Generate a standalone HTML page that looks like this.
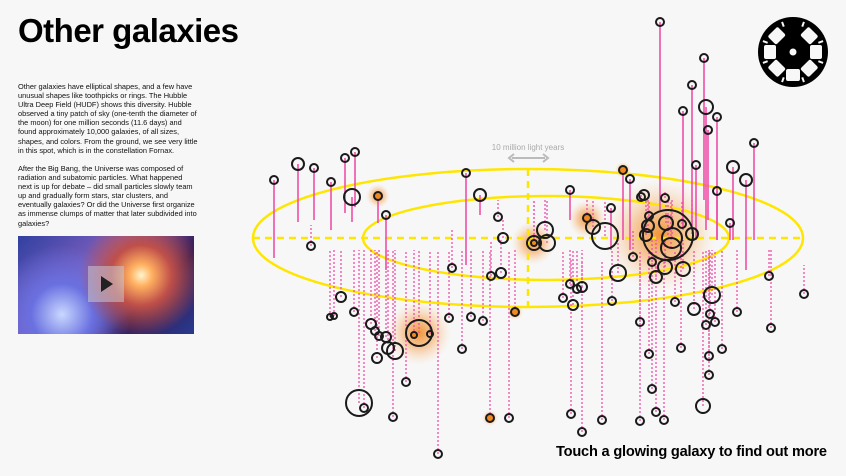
<!DOCTYPE html>
<html><head><meta charset="utf-8">
<style>
html,body{margin:0;padding:0;background:#f7f7f7;}
body{width:846px;height:476px;position:relative;overflow:hidden;font-family:"Liberation Sans",sans-serif;}
h1{position:absolute;left:18px;top:12px;margin:0;font-size:33px;font-weight:bold;letter-spacing:-0.5px;color:#000;}
.p{position:absolute;left:18px;width:180px;font-size:7.4px;line-height:9.1px;color:#111;}
.img{position:absolute;left:18px;top:236px;width:176px;height:98px;overflow:hidden;
background:radial-gradient(circle at 70% 40%,#fff6d0 0,#ffb060 8%,#c0504a 22%,transparent 45%),radial-gradient(circle at 25% 80%,#c8d8ff 0,#6a70e0 20%,transparent 45%),linear-gradient(135deg,#3040a0,#8060c0 40%,#301850 70%,#2a3a90);}
.play{position:absolute;left:70px;top:30px;width:36px;height:36px;background:rgba(200,200,210,.55);}
.play:after{content:"";position:absolute;left:13px;top:10px;border-left:12px solid #222;border-top:8px solid transparent;border-bottom:8px solid transparent;}
.cta{position:absolute;left:556px;top:444px;font-size:14.6px;font-weight:bold;color:#000;letter-spacing:-0.2px;}
svg{position:absolute;left:0;top:0;}
</style></head><body>
<h1>Other galaxies</h1>
<div class="p" style="top:82px">Other galaxies have elliptical shapes, and a few have unusual shapes like toothpicks or rings. The Hubble Ultra Deep Field (HUDF) shows this diversity. Hubble observed a tiny patch of sky (one-tenth the diameter of the moon) for one million seconds (11.6 days) and found approximately 10,000 galaxies, of all sizes, shapes, and colors. From the ground, we see very little in this spot, which is in the constellation Fornax.</div>
<div class="p" style="top:164px">After the Big Bang, the Universe was composed of radiation and subatomic particles. What happened next is up for debate – did small particles slowly team up and gradually form stars, star clusters, and eventually galaxies? Or did the Universe first organize as immense clumps of matter that later subdivided into galaxies?</div>
<div class="img"><div class="play"></div></div>
<div class="cta">Touch a glowing galaxy to find out more</div>
<svg width="846" height="476" id="s">
<defs><radialGradient id="g"><stop offset="0" stop-color="#f08a20" stop-opacity=".9"/><stop offset=".5" stop-color="#f5a050" stop-opacity=".5"/><stop offset="1" stop-color="#fbd0a0" stop-opacity="0"/></radialGradient></defs>
<g id="glow"></g>
<ellipse cx="528" cy="238" rx="275" ry="69" fill="none" stroke="#ffe600" stroke-width="2.5"/>
<ellipse cx="546" cy="238" rx="183" ry="42" fill="none" stroke="#ffe600" stroke-width="2.5"/>
<line x1="253" y1="238" x2="803" y2="238" stroke="#ffe600" stroke-width="2.5" stroke-dasharray="7,5"/>
<line x1="528" y1="169" x2="528" y2="306" stroke="#ffe600" stroke-width="2.5" stroke-dasharray="7,5"/>
<text x="528" y="150" text-anchor="middle" font-size="8" fill="#aaa" font-family="Liberation Sans">10 million light years</text>
<line x1="512" y1="158" x2="545" y2="158" stroke="#bbb" stroke-width="2"/>
<path d="M514 154 L509 158 L514 162 M543 154 L548 158 L543 162" fill="none" stroke="#bbb" stroke-width="2"/>
<g id="lines"></g><g id="circ"></g>
<g transform="translate(793,52)">
<circle r="35" fill="#000"/>
<circle r="3.5" fill="#f7f7f7"/>
<g fill="#f7f7f7">
<rect x="-7" y="-29" width="14" height="12" rx="2" transform="rotate(45)"/>
<rect x="-7" y="-29" width="14" height="12" rx="2" transform="rotate(135)"/>
<rect x="-7" y="-29" width="14" height="12" rx="2" transform="rotate(225)"/>
<rect x="-7" y="-29" width="14" height="12" rx="2" transform="rotate(315)"/>
<rect x="-7" y="-29" width="14" height="12" rx="2" transform="rotate(90)"/>
<rect x="-7" y="-29" width="14" height="12" rx="2" transform="rotate(180)"/>
<rect x="-7" y="-29" width="14" height="12" rx="2" transform="rotate(270)"/>
<rect x="-1" y="-32" width="2" height="5" transform="rotate(20)"/>
<rect x="-1" y="-32" width="2" height="5" transform="rotate(-20)"/>
<rect x="-1" y="-32" width="2" height="5" transform="rotate(70)"/>
<rect x="-1" y="-32" width="2" height="5" transform="rotate(110)"/>
<rect x="-1" y="-32" width="2" height="5" transform="rotate(160)"/>
<rect x="-1" y="-32" width="2" height="5" transform="rotate(200)"/>
<rect x="-1" y="-32" width="2" height="5" transform="rotate(250)"/>
<rect x="-1" y="-32" width="2" height="5" transform="rotate(290)"/>
</g></g>
</svg>
<script>
var glows=[[660,235,56],[419,333,32],[533,243,22],[587,219,19],[378,196,12],[623,170,8],[515,312,8],[490,418,8]];
var G='';glows.forEach(function(g){G+='<circle cx="'+g[0]+'" cy="'+g[1]+'" r="'+g[2]+'" fill="url(#g)"/>';});
document.getElementById('glow').innerHTML=G;
var C=[
[274,180,4,258,'s'],[298,164,6,222,'s'],[314,168,4,220,'s'],[331,182,4,230,'s'],[345,158,4,213,'s'],[355,152,4,207,'s'],[352,197,8,222,'s'],[378,196,4,223,'so'],[386,215,4,270,'s'],[466,173,4,265,'s'],[480,195,6,215,'s'],[570,190,4,220,'s'],[623,170,4,240,'so'],[630,179,4,250,'s'],[611,208,4,250,'s'],
[660,22,4,210,'s'],[704,58,4,200,'s'],[692,85,4,225,'s'],[706,107,7,230,'s'],[683,111,4,230,'s'],[717,117,4,240,'s'],[708,130,4,220,'s'],[696,165,4,240,'s'],[733,167,6,240,'s'],[746,180,6,270,'s'],[754,143,4,240,'s'],[730,223,4,240,'s'],[717,191,4,240,'s'],
[311,246,4,225,'d'],[341,297,5,250,'d'],[330,317,3,250,'d'],[334,316,3,250,'d'],[354,312,4,250,'d'],[371,324,5,250,'d'],[375,331,4,250,'d'],[379,336,4,250,'d'],[386,337,5,250,'d'],[388,348,6,250,'d'],[395,351,8,250,'d'],[377,358,5,250,'d'],[406,382,4,250,'d'],[359,403,13,250,'d'],[364,408,4,250,'d'],[393,417,4,250,'d'],[438,454,4,250,'d'],
[419,333,13,250,'d'],[414,335,3,250,'do'],[430,334,3,250,'d'],[449,318,4,250,'d'],[462,349,4,250,'d'],[483,321,4,250,'d'],[471,317,4,250,'d'],[452,268,4,230,'d'],[501,273,5,240,'d'],[491,276,4,240,'d'],[498,217,4,200,'d'],[503,238,5,220,'d'],[515,312,4,250,'do'],[490,418,4,250,'do'],[509,418,4,250,'d'],
[571,414,4,260,'d'],[582,432,4,260,'d'],[602,420,4,260,'d'],[640,421,4,260,'d'],[652,389,4,260,'d'],[656,412,4,260,'d'],[664,420,4,260,'d'],
[605,236,13,200,'d'],[593,227,7,200,'d'],[587,218,4,200,'do'],[547,243,8,200,'d'],[545,230,8,200,'d'],[534,243,7,200,'d'],[534,243,3,200,'do'],[618,273,8,240,'d'],[633,257,4,230,'d'],
[668,235,25,200,'d'],[666,223,7,200,'d'],[672,238,10,200,'d'],[671,248,10,200,'d'],[646,235,6,200,'d'],[648,226,6,200,'d'],[692,234,6,200,'d'],[682,224,4,200,'d'],[665,198,4,190,'d'],[644,195,5,190,'d'],[641,197,4,190,'d'],[665,267,7,240,'d'],[683,269,7,240,'d'],[656,277,6,240,'d'],[652,262,4,240,'d'],[649,216,4,200,'d'],
[563,298,4,250,'d'],[570,284,4,250,'d'],[577,289,4,250,'d'],[573,305,5,250,'d'],[582,287,5,250,'d'],[612,301,4,250,'d'],[640,322,4,250,'d'],[649,354,4,250,'d'],[675,302,4,250,'d'],[681,348,4,250,'d'],[694,309,6,250,'d'],[703,406,7,250,'d'],[706,325,4,250,'d'],[710,314,4,250,'d'],[712,295,8,250,'d'],[715,322,4,250,'d'],[722,349,4,250,'d'],[709,375,4,250,'d'],[709,356,4,250,'d'],[737,312,4,250,'d'],[769,276,4,250,'d'],[771,328,4,250,'d'],[804,294,4,265,'d']
];
var L='',Ci='';
C.forEach(function(c){
 var x=c[0],y=c[1],r=c[2],e=c[3],t=c[4];
 if(t[0]=='s') L+='<line x1="'+x+'" y1="'+y+'" x2="'+x+'" y2="'+e+'" stroke="#ee4fa8" stroke-width="1.6"/>';
 else L+='<line x1="'+x+'" y1="'+y+'" x2="'+x+'" y2="'+e+'" stroke="#ee4fa8" stroke-width="1.3" stroke-dasharray="2,2"/>';
 Ci+='<circle cx="'+x+'" cy="'+y+'" r="'+r+'" fill="'+(t.indexOf('o')>0?'#f08a20':'none')+'" stroke="#1a1a1a" stroke-width="2"/>';
});
document.getElementById('lines').innerHTML=L;
document.getElementById('circ').innerHTML=Ci;
</script>
</body></html>
